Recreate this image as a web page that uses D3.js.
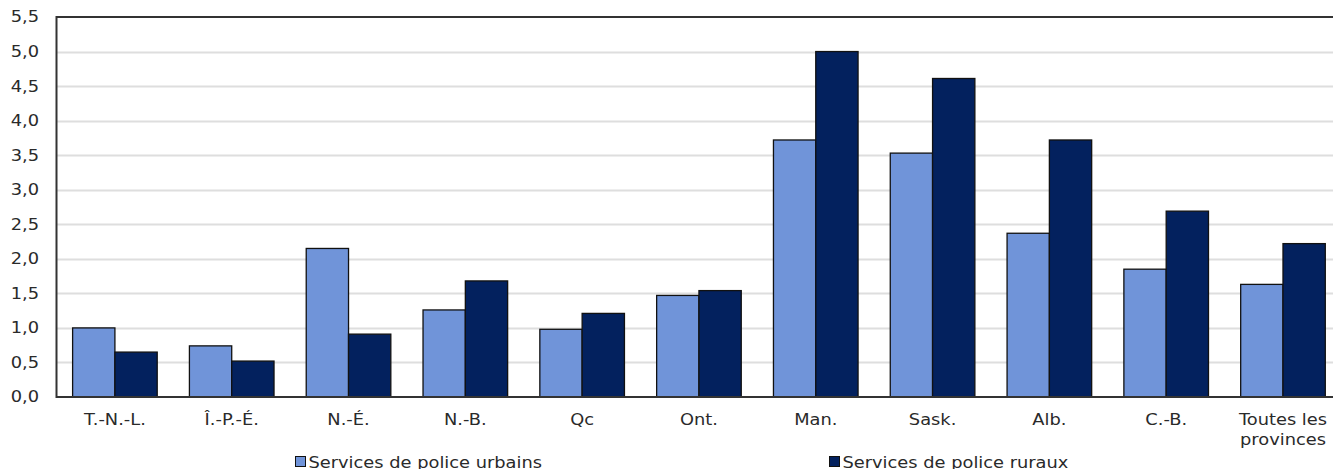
<!DOCTYPE html>
<html>
<head>
<meta charset="utf-8">
<script src="https://cdn.jsdelivr.net/npm/d3@7"></script>
<style>
  html, body { margin: 0; padding: 0; background: #fff; overflow: hidden; }
  svg { display: block; font-family: Verdana, "DejaVu Sans", sans-serif; }
</style>
</head>
<body>
<svg id="chart" width="1333" height="469"></svg>
<script>
const categories = ["T.-N.-L.", "Î.-P.-É.", "N.-É.", "N.-B.", "Qc", "Ont.", "Man.", "Sask.", "Alb.", "C.-B.", "Toutes les provinces"];
const urbanValues = [1.00, 0.74, 2.15, 1.26, 0.98, 1.47, 3.72, 3.53, 2.37, 1.85, 1.63];
const ruralValues = [0.65, 0.52, 0.91, 1.68, 1.21, 1.54, 5.00, 4.61, 3.72, 2.69, 2.22];
const seriesNames = ["Services de police urbains", "Services de police ruraux"];
const seriesColors = ["#7094d9", "#03215e"];
const yTicks = [0, 0.5, 1.0, 1.5, 2.0, 2.5, 3.0, 3.5, 4.0, 4.5, 5.0, 5.5];

const svg = d3.select("#chart");
const M = { left: 56.5, right: 1341.4, top: 17, bottom: 397 };
const fontSize = 15.5;
const sx = 1.15;
const textColor = "#2a2a2a";
const fontFam = 'Verdana, "DejaVu Sans", sans-serif';

const x = d3.scaleBand().domain(categories).range([M.left, M.right]).paddingInner(0.2757).paddingOuter(0.1379);
const x1 = d3.scaleBand().domain([0, 1]).range([0, x.bandwidth()]).padding(0);
const y = d3.scaleLinear().domain([0, 5.5]).range([M.bottom, M.top]);
const fmt = v => d3.format(".1f")(v).replace(".", ",");

// gridlines
svg.append("g").selectAll("line")
  .data(yTicks.filter(t => t > 0 && t < 5.5))
  .join("line")
  .attr("x1", M.left).attr("x2", 1333)
  .attr("y1", d => Math.round(y(d)) + 0.5).attr("y2", d => Math.round(y(d)) + 0.5)
  .attr("stroke", "#dedede").attr("stroke-width", 2);

// bars
const rows = categories.map((c, i) => ({ c, vals: [urbanValues[i], ruralValues[i]] }));
const g = svg.append("g").selectAll("g").data(rows).join("g")
  .attr("transform", d => `translate(${x(d.c)},0)`);
g.selectAll("rect").data(d => d.vals.map((v, k) => ({ v, k })))
  .join("rect")
  .attr("x", d => x1(d.k))
  .attr("y", d => y(d.v))
  .attr("width", x1.bandwidth())
  .attr("height", d => M.bottom - y(d.v))
  .attr("fill", d => seriesColors[d.k])
  .attr("stroke", "#111")
  .attr("stroke-width", 1.3);

// frame lines
svg.append("line").attr("x1", M.left).attr("x2", 1333).attr("y1", M.top).attr("y2", M.top)
  .attr("stroke", "#333").attr("stroke-width", 2);
svg.append("line").attr("x1", M.left).attr("x2", 1333).attr("y1", M.bottom).attr("y2", M.bottom)
  .attr("stroke", "#333").attr("stroke-width", 2);
svg.append("line").attr("x1", M.left).attr("x2", M.left).attr("y1", M.top - 1).attr("y2", M.bottom + 1)
  .attr("stroke", "#333").attr("stroke-width", 2);

// y axis
const yAxis = svg.append("g").attr("transform", `translate(${M.left},0)`)
  .call(d3.axisLeft(y).tickValues(yTicks).tickFormat(fmt).tickSize(0).tickPadding(17));
yAxis.select(".domain").remove();
yAxis.selectAll("text")
  .attr("font-size", fontSize).attr("fill", textColor).attr("font-family", fontFam)
  .attr("x", -17.5 / sx).attr("transform", `scale(${sx},1)`);

// x axis
const xAxis = svg.append("g").attr("transform", `translate(0,${M.bottom})`)
  .call(d3.axisBottom(x).tickSize(0).tickPadding(0).tickFormat(""));
xAxis.select(".domain").remove();
xAxis.selectAll(".tick").each(function(d) {
  const t = d3.select(this).append("text")
    .attr("font-size", fontSize).attr("fill", textColor)
    .attr("text-anchor", "middle").attr("font-family", fontFam)
    .attr("transform", `scale(${sx},1)`);
  const words = d === "Toutes les provinces" ? ["Toutes les", "provinces"] : [d];
  words.forEach((w, i) => t.append("tspan").attr("x", 0).attr("y", 28.5 + i * 20).text(w));
});

// legend
const legendX = [295, 829];
const lg = svg.append("g").selectAll("g").data(seriesNames).join("g")
  .attr("transform", (d, i) => `translate(${legendX[i]},0)`);
lg.append("rect").attr("x", 0.5).attr("y", 456.5).attr("width", 10).attr("height", 10)
  .attr("fill", (d, i) => seriesColors[i]).attr("stroke", "#111").attr("stroke-width", 1);
lg.append("g").attr("transform", "translate(13.5,467.5)")
  .append("text").attr("font-size", fontSize).attr("fill", textColor).attr("font-family", fontFam)
  .attr("transform", `scale(${sx},1)`)
  .text(d => d);
</script>
</body>
</html>
